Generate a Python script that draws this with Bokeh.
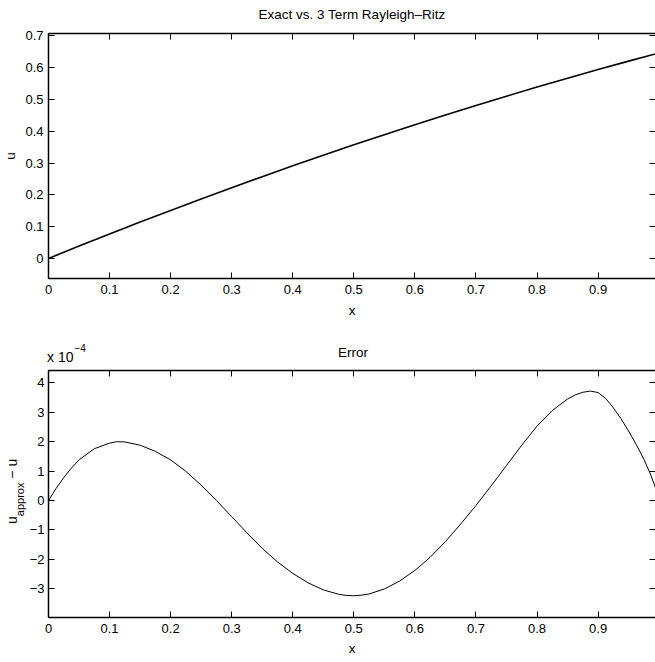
from bokeh.plotting import figure
from bokeh.models import Range1d, LinearAxis, FixedTicker, Div
from bokeh.layouts import column, row
from bokeh.embed import file_html
from bokeh.resources import INLINE

# ---------------- data ----------------
x_u = [0.00, 0.05, 0.10, 0.15, 0.20, 0.25, 0.30, 0.35, 0.40, 0.45, 0.50,
       0.55, 0.60, 0.65, 0.70, 0.75, 0.80, 0.85, 0.90, 0.95, 1.00]
u_vals = [0.0000, 0.0388, 0.0768, 0.1142, 0.1510, 0.1870, 0.2224, 0.2570, 0.2910, 0.3244, 0.3570,
          0.3890, 0.4202, 0.4508, 0.4808, 0.5100, 0.5386, 0.5664, 0.5936, 0.6202, 0.6460]

x_err = [0.000, 0.0125, 0.025, 0.0375, 0.050, 0.075, 0.100, 0.1125, 0.125, 0.150, 0.175, 0.200, 0.225,
         0.250, 0.275, 0.300, 0.325, 0.350, 0.375, 0.400, 0.425, 0.450, 0.475, 0.4875,
         0.500, 0.5125, 0.525, 0.550, 0.575, 0.600, 0.625, 0.650, 0.675, 0.700, 0.725,
         0.750, 0.775, 0.800, 0.825, 0.850, 0.8625, 0.875, 0.8875, 0.900, 0.9125, 0.925,
         0.9375, 0.950, 0.9625, 0.975, 0.985, 0.995]
err_e4 = [0.00, 0.41, 0.78, 1.10, 1.38, 1.76, 1.95, 2.00, 1.99, 1.88, 1.67, 1.38, 0.99,
          0.52, 0.00, -0.55, -1.10, -1.63, -2.09, -2.48, -2.80, -3.04, -3.19, -3.23,
          -3.24, -3.22, -3.18, -3.01, -2.74, -2.38, -1.93, -1.40, -0.80, -0.17, 0.50,
          1.19, 1.88, 2.53, 3.06, 3.45, 3.59, 3.68, 3.72, 3.67, 3.47, 3.15,
          2.78, 2.36, 1.90, 1.40, 0.93, 0.38]

x_ticks = [0.0, 0.1, 0.2, 0.3, 0.4, 0.5, 0.6, 0.7, 0.8, 0.9]
x_tick_labels = ["0", "0.1", "0.2", "0.3", "0.4", "0.5", "0.6", "0.7", "0.8", "0.9"]
u_ticks = [0.0, 0.1, 0.2, 0.3, 0.4, 0.5, 0.6, 0.7]
u_tick_labels = ["0", "0.1", "0.2", "0.3", "0.4", "0.5", "0.6", "0.7"]
err_ticks = [-3, -2, -1, 0, 1, 2, 3, 4]
err_tick_labels = ["\u22123", "\u22122", "\u22121", "0", "1", "2", "3", "4"]

title_top = "Exact vs. 3 Term Rayleigh\u2013Ritz"
title_bottom = "Error"
x_label = "x"
y_label_top = "u"
y_label_bottom = ["u", "approx", " \u2212 u"]
scale_text = ["x 10", "\u22124"]

X_START, X_END = 0.0, 0.994
U_START, U_END = -0.063, 0.707
E_START, E_END = -3.98, 4.42

FONT = "Liberation Sans"
FONT_CSS = "'Liberation Sans', Arial, sans-serif"


def styled_axis(ticks, labels, show_labels=True, line=True):
    ax = LinearAxis(ticker=FixedTicker(ticks=ticks))
    ax.major_tick_in = 6
    ax.major_tick_out = 0
    ax.major_tick_line_color = "black"
    ax.major_tick_line_width = 1
    ax.minor_tick_line_color = None
    ax.axis_line_color = "black" if line else None
    ax.axis_line_width = 1.5
    ax.axis_label_text_font = FONT
    ax.axis_label_text_font_style = "normal"
    ax.axis_label_text_color = "black"
    ax.axis_label_text_font_size = "13.5px"
    if show_labels:
        ax.major_label_overrides = {t: l for t, l in zip(ticks, labels)}
        ax.major_label_text_font = FONT
        ax.major_label_text_font_size = "13px"
        ax.major_label_text_color = "black"
    else:
        ax.major_label_text_font_size = "1px"
        ax.major_label_text_color = None
        ax.major_label_standoff = 0
    return ax


def make_fig(width, height, y0, y1, left, top, bottom, yt, ytl):
    p = figure(width=width, height=height,
               x_range=Range1d(X_START, X_END), y_range=Range1d(y0, y1),
               output_backend="svg", toolbar_location=None,
               x_axis_type=None, y_axis_type=None,
               min_border_left=left, min_border_right=0,
               min_border_top=top, min_border_bottom=bottom)
    p.grid.visible = False
    p.outline_line_color = None
    p.background_fill_color = "white"
    p.border_fill_color = "white"
    bx = styled_axis(x_ticks, x_tick_labels)
    bx.major_label_standoff = 6
    ly = styled_axis(yt, ytl)
    ax = styled_axis(x_ticks, x_tick_labels, show_labels=False)
    ry = styled_axis(yt, ytl, show_labels=False, line=False)
    p.add_layout(bx, "below")
    p.add_layout(ly, "left")
    p.add_layout(ax, "above")
    p.add_layout(ry, "right")
    return p, bx, ly, ax


# ---------------- top plot ----------------
p1, bx1, ly1, ax1 = make_fig(655, 330, U_START, U_END, 48, 33, 52, u_ticks, u_tick_labels)
p1.line(x_u, u_vals, line_color="black", line_width=1.6)
ly1.major_label_standoff = 5
ly1.axis_label = y_label_top
ly1.axis_label_standoff = 4
bx1.axis_label = x_label
bx1.axis_label_standoff = 6
ax1.axis_label = title_top
ax1.axis_label_standoff = 12

# ---------------- band between plots: scale factor and second title ----------------
band_html = (
    f'<div style="position:relative;width:655px;height:39px;font-family:{FONT_CSS};color:#000;">'
    f'<span style="position:absolute;left:47px;top:20px;font-size:14px;line-height:14px;white-space:nowrap;">'
    f'{scale_text[0]}<span style="font-size:10px;position:relative;top:-10px;margin-left:1px;">{scale_text[1]}</span></span>'
    f'<div style="position:absolute;left:253px;top:16px;width:200px;text-align:center;'
    f'font-size:13.5px;line-height:13px;white-space:nowrap;">{title_bottom}</div>'
    '</div>'
)
band = Div(text=band_html, width=655, height=39, margin=0)

# ---------------- bottom plot ----------------
YLAB_W = 26
p2, bx2, ly2, ax2 = make_fig(655 - YLAB_W, 293, E_START, E_END, 48 - YLAB_W, 1, 45,
                             err_ticks, err_tick_labels)
p2.line(x_err, err_e4, line_color="black", line_width=1.0)
ly2.major_label_standoff = 4
bx2.axis_label = x_label
bx2.axis_label_standoff = 5

ylab_html = (
    f'<div style="position:relative;width:{YLAB_W}px;height:293px;">'
    f'<div style="position:absolute;left:5px;top:155px;transform-origin:0 0;transform:rotate(-90deg);'
    f'white-space:nowrap;font-family:{FONT_CSS};font-size:14px;line-height:14px;color:#000;">'
    f'{y_label_bottom[0]}<span style="font-size:11px;position:relative;top:7px;">{y_label_bottom[1]}</span>'
    f'{y_label_bottom[2]}</div></div>'
)
ylab = Div(text=ylab_html, width=YLAB_W, height=293, margin=0,
           styles={"overflow": "visible", "z-index": "1"})

layout = column(p1, band, row(ylab, p2, spacing=0), spacing=0)
open("out.html", "w").write(file_html(layout, INLINE))
